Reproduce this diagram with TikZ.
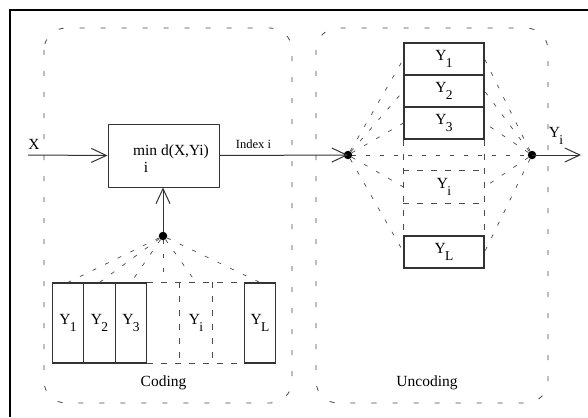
\documentclass[tikz,border=0pt]{standalone}
\usepackage{fontspec}
\setmainfont{Liberation Serif}
\usetikzlibrary{arrows.meta}
\definecolor{ln}{HTML}{333333}
\definecolor{dsh}{HTML}{4A4A4A}
\newcommand\Ysb[1]{Y\kern-0.8pt\raisebox{-6.5pt}{\fontsize{13.5}{13.5}\selectfont #1}}
\tikzset{
  txt/.style={inner sep=0pt, font=\fontsize{15.5}{15.5}\selectfont},
  smalltxt/.style={inner sep=0pt, font=\fontsize{12.5}{12.5}\selectfont},
  vbox/.style={draw=ln, line width=1.1pt, minimum width=31.5pt, minimum height=80pt, inner sep=0pt, font=\fontsize{15.5}{15.5}\selectfont},
  hbox/.style={draw=ln, line width=1.1pt, minimum width=80pt, minimum height=32pt, inner sep=0pt, font=\fontsize{15.5}{15.5}\selectfont},
  ghostv/.style={vbox, draw=none},
  ghosth/.style={hbox, draw=none},
  frame/.style={draw=dsh, line width=0.8pt, dash pattern=on 5pt off 16pt, rounded corners=22pt},
  fan/.style={draw=dsh, line width=0.7pt, dash pattern=on 4pt off 10pt},
  dline/.style={draw=dsh, line width=0.8pt, dash pattern=on 6pt off 8pt},
  dotn/.style={circle, fill=black, inner sep=0pt, minimum size=8.5pt},
  arr/.style={draw=ln, line width=1pt, -{Straight Barb[length=15pt,width=14pt,line width=1pt]}},
}
\begin{document}
\begin{tikzpicture}[x=1pt,y=-1pt]
\useasboundingbox (0,0) rectangle (588,417);
% outer frame (left and top edges visible)
\draw[line width=1.3pt] (10,417) -- (10,10) -- (588,10);

% group frames
\draw[frame] (44,28) rectangle (292,403);
\draw[frame] (316,28) rectangle (548,403);
\node[txt] (codlbl) at (163.5,383) {Coding};
\node[txt] (uncodlbl) at (427,383) {Uncoding};

% min box
\node[draw=ln, line width=1pt, minimum width=111pt, minimum height=63pt, inner sep=0pt] (minbox) at (163.5,155.5) {};
\node[txt] (mintxt) at (171,152) {min d(X,Yi)};
\node[txt] (minsub) at (146,167) {i};

% input X
\coordinate (xin) at (28,155);
\node[txt] (xlbl) at (34,144) {X};
\draw[arr] (xin) -- (minbox.west);

% coding codebook
\node[vbox] (c1) at (68,323) {\Ysb{1}};
\node[vbox] (c2) at (99.5,323) {\Ysb{2}};
\node[vbox] (c3) at (131,323) {\Ysb{3}};
\node[ghostv] (ci) at (196,323) {\Ysb{i}};
\node[vbox] (cL) at (260,323) {\Ysb{L}};
\draw[dline] (c3.north east) -- (cL.north west);
\draw[dline] (c3.south east) -- (cL.south west);
\draw[dline] (ci.north west) -- (ci.south west);
\draw[dline] (ci.north east) -- (ci.south east);

\node[dotn] (cdot) at (163,236) {};
\foreach \b in {c1,c2,c3,ci,cL} \draw[fan] (cdot) -- (\b.north);
\draw[fan] (cdot) -- (cdot |- ci.north);
\draw[arr] (cdot) -- (cdot |- minbox.south);

% index line
\node[dotn] (ldot) at (348,155) {};
\node[smalltxt] (idxlbl) at (253.5,144) {Index i};
\draw[arr] (minbox.east) -- (ldot.center);

% uncoding codebook
\node[hbox] (u1) at (444,59) {\Ysb{1}};
\node[hbox] (u2) at (444,91) {\Ysb{2}};
\node[hbox] (u3) at (444,123) {\Ysb{3}};
\node[ghosth] (ui) at (444,187) {\Ysb{i}};
\node[hbox] (uL) at (444,252) {\Ysb{L}};
\draw[dline] (u3.south west) -- (uL.north west);
\draw[dline] (u3.south east) -- (uL.north east);
\draw[dline] (ui.north west) -- (ui.north east);
\draw[dline] (ui.south west) -- (ui.south east);

\node[dotn] (rdot) at (532,155) {};
\draw[fan] (ldot) -- (rdot);
\foreach \b in {u1,u2,u3,ui,uL} {
  \draw[fan] (ldot) -- (\b.west);
  \draw[fan] (rdot) -- (\b.east);
}

% output
\coordinate (yout) at (581,155);
\draw[arr] (rdot.center) -- (yout);
\node[txt] (ylbl) at (556,136) {\Ysb{i}};
\end{tikzpicture}
\end{document}
